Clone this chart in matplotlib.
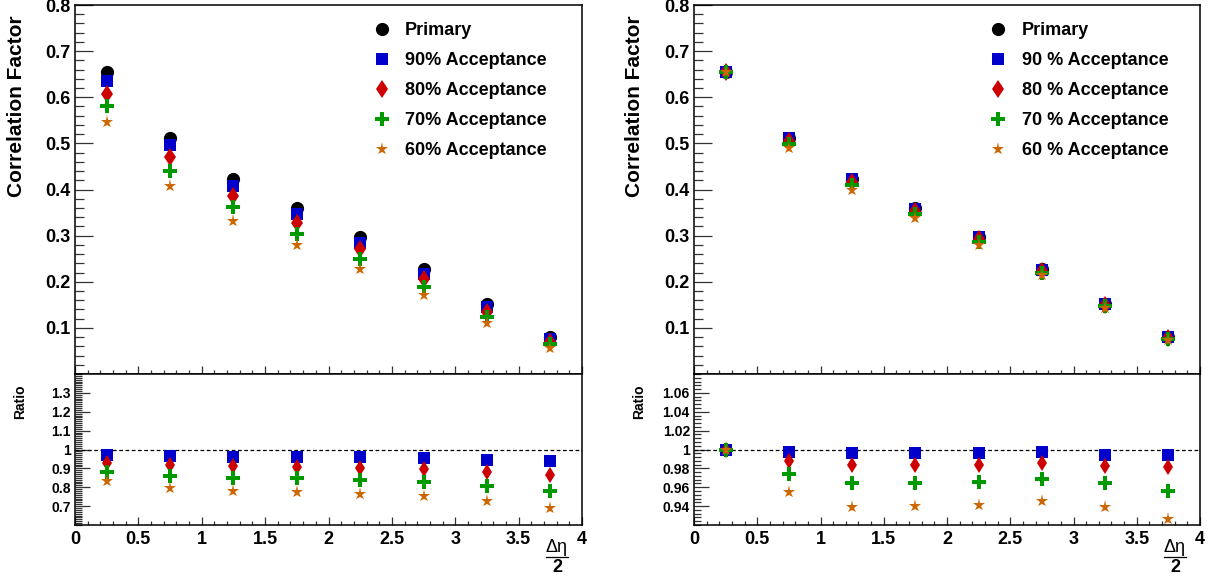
import matplotlib
matplotlib.use("Agg")
import matplotlib.pyplot as plt
from matplotlib.ticker import MultipleLocator, FuncFormatter, FixedLocator

plt.rcParams['font.family'] = ['Liberation Sans', 'DejaVu Sans']

# ---------------- data ----------------
x = [0.25, 0.75, 1.25, 1.75, 2.25, 2.75, 3.25, 3.75]

labels_left = ["Primary", "90% Acceptance", "80% Acceptance", "70% Acceptance", "60% Acceptance"]
labels_right = ["Primary", "90 % Acceptance", "80 % Acceptance", "70 % Acceptance", "60 % Acceptance"]

# left: correlation factor
L_primary = [0.655, 0.512, 0.423, 0.359, 0.297, 0.227, 0.152, 0.080]
L_90 = [0.635, 0.496, 0.408, 0.346, 0.285, 0.217, 0.145, 0.075]
L_80 = [0.608, 0.470, 0.386, 0.328, 0.270, 0.205, 0.135, 0.070]
L_70 = [0.580, 0.441, 0.362, 0.303, 0.249, 0.189, 0.123, 0.065]
L_60 = [0.546, 0.408, 0.331, 0.279, 0.227, 0.171, 0.111, 0.057]

# left: ratio
LR_90 = [0.969, 0.963, 0.962, 0.962, 0.958, 0.955, 0.946, 0.939]
LR_80 = [0.930, 0.916, 0.911, 0.909, 0.902, 0.897, 0.883, 0.866]
LR_70 = [0.883, 0.862, 0.850, 0.847, 0.838, 0.829, 0.808, 0.780]
LR_60 = [0.834, 0.796, 0.779, 0.773, 0.763, 0.751, 0.726, 0.689]

# right: correlation factor
R_primary = [0.655, 0.512, 0.423, 0.359, 0.297, 0.227, 0.152, 0.080]
R_90 = [0.655, 0.511, 0.422, 0.358, 0.296, 0.226, 0.151, 0.080]
R_80 = [0.655, 0.506, 0.417, 0.354, 0.293, 0.224, 0.150, 0.078]
R_70 = [0.654, 0.499, 0.409, 0.347, 0.287, 0.220, 0.147, 0.076]
R_60 = [0.655, 0.490, 0.398, 0.338, 0.280, 0.215, 0.143, 0.074]

# right: ratio
RR_90 = [1.000, 0.997, 0.9965, 0.9965, 0.9965, 0.997, 0.994, 0.994]
RR_80 = [1.000, 0.988, 0.984, 0.984, 0.984, 0.9856, 0.982, 0.981]
RR_70 = [0.999, 0.974, 0.965, 0.965, 0.966, 0.969, 0.965, 0.956]
RR_60 = [1.000, 0.9554, 0.9393, 0.9404, 0.941, 0.9453, 0.939, 0.926]

x_ticks = [0, 0.5, 1, 1.5, 2, 2.5, 3, 3.5, 4]
top_yticks = [0.1, 0.2, 0.3, 0.4, 0.5, 0.6, 0.7, 0.8]
left_ratio_yticks = [0.7, 0.8, 0.9, 1.0, 1.1, 1.2, 1.3]
right_ratio_yticks = [0.94, 0.96, 0.98, 1.0, 1.02, 1.04, 1.06]

# ---------------- styles ----------------
C_BLACK = "#000000"
C_BLUE = "#0000cc"
C_RED = "#cc0000"
C_GREEN = "#009900"
C_ORANGE = "#cc6600"

styles = [
    dict(marker='o', color=C_BLACK, ms=9.5, ms_r=9.5),
    dict(marker='s', color=C_BLUE, ms=9.0, ms_r=9.0),
    dict(marker='d', color=C_RED, ms=9.5, ms_r=8.0),
    dict(marker='P', color=C_GREEN, ms=10, ms_r=10),
    dict(marker='*', color=C_ORANGE, ms=9.5, ms_r=9.5),
]

W, H = 1215, 579
fig = plt.figure(figsize=(W / 100, H / 100), dpi=100)


def fx(px):
    return px / W


def fy(py):
    return 1 - py / H


def style_axis(ax, ymaj_len, ymin_len):
    for s in ax.spines.values():
        s.set_linewidth(1.1)
        s.set_color('black')
    ax.tick_params(axis='y', which='major', direction='in', length=ymaj_len, width=0.9,
                   color='#333333', left=True, right=False)
    ax.tick_params(axis='y', which='minor', direction='in', length=ymin_len, width=0.9,
                   color='#333333', left=True, right=False)
    ax.tick_params(axis='x', which='major', direction='in', length=6, width=0.9,
                   color='#333333', bottom=True, top=False)
    ax.tick_params(axis='x', which='minor', direction='in', length=3, width=0.9,
                   color='#333333', bottom=True, top=False)
    ax.xaxis.set_minor_locator(MultipleLocator(0.1))
    ax.set_xlim(0, 4)


fmt = FuncFormatter(lambda v, p: "%g" % round(v, 3))


def make_panel(x0_px, x1_px, tops, ratios, labels, ratio_lim, ratio_ticks, ratio_minor,
               leg_left_px, leg_pad, ylabel_x_px, ratio_label_x_px, frac_x_px):
    w = fx(x1_px - x0_px)
    ax = fig.add_axes([fx(x0_px), fy(374), w, (374 - 5) / H])
    axr = fig.add_axes([fx(x0_px), fy(525), w, (525 - 374) / H])

    # top panel
    for vals, st, lab in zip(tops, styles, labels):
        ax.plot(x, vals, linestyle='none', marker=st['marker'], color=st['color'],
                markersize=st['ms'], markeredgewidth=0, label=lab, zorder=3)
    ax.set_ylim(0, 0.8)
    style_axis(ax, 13, 6.5)
    ax.yaxis.set_major_locator(FixedLocator(top_yticks))
    ax.yaxis.set_minor_locator(MultipleLocator(0.02))
    ax.yaxis.set_major_formatter(fmt)
    ax.set_xticks(x_ticks)
    ax.tick_params(axis='x', labelbottom=False)
    ax.tick_params(axis='y', labelsize=13, pad=3)
    for t in ax.get_yticklabels():
        t.set_fontweight('bold')

    leg_x = (leg_left_px - x0_px) / (x1_px - x0_px)
    leg_y = (374 - 22) / 369
    ax.legend(loc='upper left', bbox_to_anchor=(leg_x, leg_y), frameon=False,
              borderpad=0, borderaxespad=0, handlelength=1.0,
              handletextpad=leg_pad, labelspacing=0.72,
              prop=dict(size=13, weight='bold'), numpoints=1)

    # ratio panel
    for vals, st in zip(ratios, styles[1:]):
        axr.plot(x, vals, linestyle='none', marker=st['marker'], color=st['color'],
                 markersize=st['ms_r'], markeredgewidth=0, zorder=3)
    axr.axhline(1.0, color='black', linestyle=(0, (3, 2)), linewidth=0.9, zorder=2)
    axr.set_ylim(*ratio_lim)
    style_axis(axr, 10.8, 5.2)
    axr.tick_params(axis='x', which='major', length=5.5)
    axr.yaxis.set_major_locator(FixedLocator(ratio_ticks))
    axr.yaxis.set_minor_locator(MultipleLocator(ratio_minor))
    axr.yaxis.set_major_formatter(fmt)
    axr.set_xticks(x_ticks)
    axr.xaxis.set_major_formatter(fmt)
    axr.tick_params(axis='x', labelsize=13, pad=4)
    axr.tick_params(axis='y', labelsize=10, pad=3)
    for t in axr.get_xticklabels() + axr.get_yticklabels():
        t.set_fontweight('bold')

    # axis titles
    fig.text(fx(ylabel_x_px), fy(15), "Correlation Factor", rotation=90, ha='center',
             va='top', fontsize=15, fontweight='bold')
    fig.text(fx(ratio_label_x_px), fy(402), "Ratio", rotation=90, ha='center',
             va='center', fontsize=10, fontweight='bold')
    # fraction Δη / 2
    fig.text(fx(frac_x_px), fy(547), "Δη", ha='center', va='center', fontsize=13)
    fig.add_artist(plt.Line2D([fx(frac_x_px - 11), fx(frac_x_px + 11)], [fy(557), fy(557)],
                              transform=fig.transFigure, color='black', linewidth=0.9))
    fig.text(fx(frac_x_px), fy(568), "2", ha='center', va='center', fontsize=13,
             fontweight='bold')
    return ax, axr


make_panel(75, 582, [L_primary, L_90, L_80, L_70, L_60], [LR_90, LR_80, LR_70, LR_60],
           labels_left, (0.6, 1.4), left_ratio_yticks, 0.01,
           373, 0.78, 17, 20, 557)
make_panel(694, 1200, [R_primary, R_90, R_80, R_70, R_60], [RR_90, RR_80, RR_70, RR_60],
           labels_right, (0.92, 1.08), right_ratio_yticks, 0.004,
           989, 0.83, 635, 639, 1175)

fig.savefig("out.png", dpi=100)
